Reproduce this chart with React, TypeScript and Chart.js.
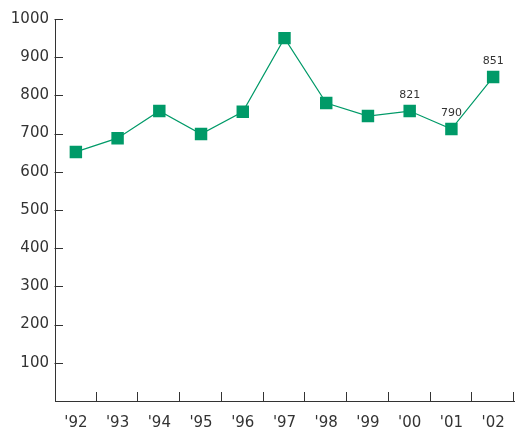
import React, { useEffect, useRef } from "react";
import { Chart, registerables } from "chart.js";

Chart.register(...registerables);

const categories = ["'92", "'93", "'94", "'95", "'96", "'97", "'98", "'99", "'00", "'01", "'02"];
const values = [652, 688, 759, 699, 757, 950, 780, 746, 759, 712, 848];
const pointLabels = ["", "", "", "", "", "", "", "", "821", "790", "851"];
const yTicks = [100, 200, 300, 400, 500, 600, 700, 800, 900, 1000];

const GREEN = "#009a68";
const AXIS = "#333333";
const FONT = "Verdana, 'DejaVu Sans', sans-serif";

const innerTicks = {
  id: "innerTicks",
  afterDatasetsDraw(chart: any) {
    const ctx = chart.ctx;
    const { left, right, bottom } = chart.chartArea;
    const y = chart.scales.y;
    ctx.save();
    ctx.strokeStyle = AXIS;
    ctx.lineWidth = 1;
    ctx.beginPath();
    yTicks.forEach((v) => {
      const py = Math.round(y.getPixelForValue(v)) + 0.5;
      ctx.moveTo(left - 0.5, py);
      ctx.lineTo(left + 8, py);
    });
    const n = categories.length;
    const step = (right - left) / n;
    for (let k = 1; k <= n; k++) {
      const px = Math.round(left + step * k) - 0.5;
      ctx.moveTo(px, bottom);
      ctx.lineTo(px, bottom - 9);
    }
    ctx.stroke();
    // data labels
    ctx.fillStyle = AXIS;
    ctx.font = `11px ${FONT}`;
    ctx.textAlign = "center";
    ctx.textBaseline = "middle";
    const meta = chart.getDatasetMeta(0);
    meta.data.forEach((pt: any, i: number) => {
      if (pointLabels[i]) ctx.fillText(pointLabels[i], pt.x, pt.y - 16);
    });
    ctx.restore();
  },
};

export default function App() {
  const ref = useRef<HTMLCanvasElement>(null);
  useEffect(() => {
    const chart = new Chart(ref.current!, {
      type: "line",
      data: {
        labels: categories,
        datasets: [
          {
            data: values,
            borderColor: GREEN,
            borderWidth: 1.2,
            backgroundColor: GREEN,
            pointStyle: "rect",
            pointRadius: 8.8,
            pointBorderWidth: 0,
            pointBackgroundColor: GREEN,
            tension: 0,
          },
        ],
      },
      options: {
        animation: false,
        responsive: false,
        devicePixelRatio: 1,
        layout: { autoPadding: false, padding: { top: 19, right: 1, left: 0, bottom: 0 } },
        plugins: { legend: { display: false }, tooltip: { enabled: false } },
        scales: {
          x: {
            offset: true,
            grid: { display: false, drawTicks: false },
            border: { display: true, color: AXIS, width: 1 },
            ticks: { color: AXIS, font: { family: FONT, size: 15 }, padding: 13, autoSkip: false, maxRotation: 0 },
            afterFit: (s: any) => {
              s.height = 30;
              s.paddingLeft = 0;
              s.paddingRight = 0;
            },
          },
          y: {
            min: 0,
            max: 1000,
            grid: { display: false, drawTicks: false },
            border: { display: true, color: AXIS, width: 1 },
            ticks: {
              stepSize: 100,
              color: AXIS,
              padding: 6,
              font: { family: FONT, size: 15 },
              callback: (v: any) => (v === 0 ? "" : String(v)),
            },
            afterFit: (s: any) => {
              s.width = 55;
              s.paddingTop = 0;
              s.paddingBottom = 0;
            },
          },
        },
      },
      plugins: [innerTicks],
    });
    return () => chart.destroy();
  }, []);
  return (
    <div style={{ position: "absolute", left: 0, top: 0, width: 515, height: 431, background: "#fff" }}>
      <canvas ref={ref} width={515} height={431} />
    </div>
  );
}
